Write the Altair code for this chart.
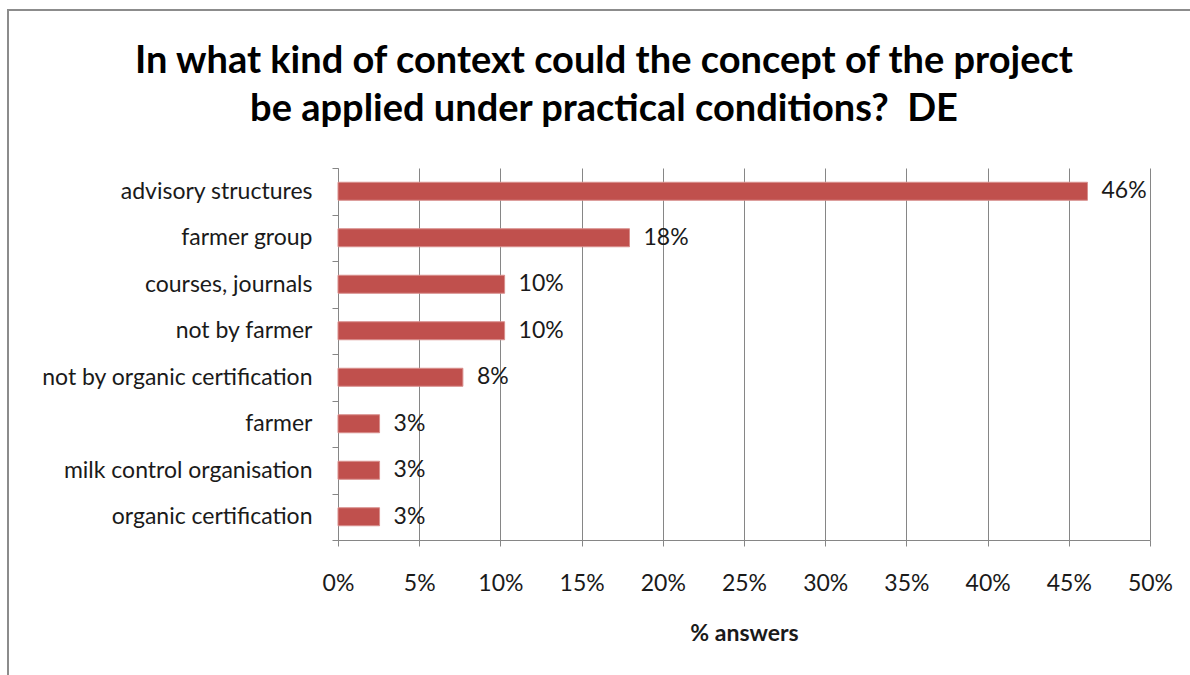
import altair as alt
import pandas as pd

categories = ["advisory structures", "farmer group", "courses, journals", "not by farmer",
              "not by organic certification", "farmer ", "milk control organisation",
              "organic certification"]
shares = [0.4615, 0.1795, 0.1026, 0.1026, 0.0769, 0.0256, 0.0256, 0.0256]
labels = ["46%", "18%", "10%", "10%", "8%", "3%", "3%", "3%"]
x_ticks = [0, 0.05, 0.10, 0.15, 0.20, 0.25, 0.30, 0.35, 0.40, 0.45, 0.50]
title_lines = ["In what kind of context could the concept of the project",
               "be applied under practical conditions?\u00a0 DE"]

df = pd.DataFrame({"cat": categories, "share": shares, "label": labels})

FONT = "Lato"
FS = 23
W, H = 812, 372
LEFT, TOP = 338, 168

y = alt.Y("cat:N", sort=categories, title=None,
          scale=alt.Scale(paddingInner=0, paddingOuter=0),
          axis=alt.Axis(tickBand="extent", tickSize=6, tickColor="#868686",
                        domainColor="#868686", labelPadding=20, labelFontSize=FS,
                        labelFont=FONT, labelColor="#1a1a1a", labelLimit=400, grid=False))
x = alt.X("share:Q", title="% answers",
          scale=alt.Scale(domain=[0, 0.5], nice=False),
          axis=alt.Axis(values=x_ticks, format=".0%", tickSize=6, tickColor="#868686",
                        domainColor="#868686", gridColor="#868686", grid=True,
                        labelFlush=False, labelOverlap=False,
                        labelPadding=26, labelFontSize=FS, labelFont=FONT,
                        labelColor="#1a1a1a", titleFont=FONT, titleFontSize=FS,
                        titleFontWeight="bold", titleColor="#1a1a1a", titlePadding=27))

bars = alt.Chart(df).mark_bar(color="#C0504D", size=18, stroke="#d88e8c",
                              strokeWidth=1).encode(x=x, y=y)
text = alt.Chart(df).mark_text(align="left", dx=14, fontSize=FS, font=FONT,
                               color="#1a1a1a").encode(x="share:Q",
                                                       y=alt.Y("cat:N", sort=categories),
                                                       text="label:N")
frame = alt.Chart(pd.DataFrame({"a": [0]})).mark_rect(
    fill=None, stroke="#8c8c8c", strokeWidth=2).encode(
    x=alt.value(8 - LEFT), x2=alt.value(900), y=alt.value(10 - TOP), y2=alt.value(600))

title1 = alt.Chart(pd.DataFrame({"t": [title_lines[0]]})).mark_text(
    fontSize=38, fontWeight="bold", font=FONT, color="#000000", align="center",
    baseline="middle").encode(x=alt.value(604 - LEFT), y=alt.value(62 - TOP), text="t:N")
title2 = alt.Chart(pd.DataFrame({"t": [title_lines[1]]})).mark_text(
    fontSize=38, fontWeight="bold", font=FONT, color="#000000", align="center",
    baseline="middle").encode(x=alt.value(604 - LEFT), y=alt.value(110 - TOP), text="t:N")

chart = alt.layer(frame, bars, text, title1, title2).properties(
    width=W, height=H,
    autosize=alt.AutoSizeParams(type="none"),
    padding={"left": LEFT, "top": TOP, "right": 40, "bottom": 135},
).configure_view(stroke=None)

chart.save("out.html", embed_options={"renderer": "svg", "actions": False})
